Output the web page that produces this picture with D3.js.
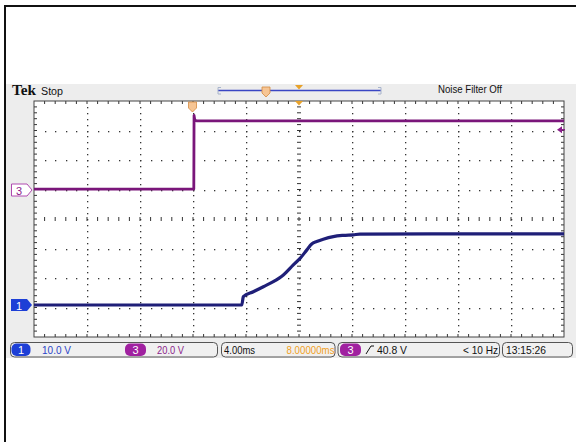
<!DOCTYPE html>
<html><head><meta charset="utf-8">
<script src="https://cdn.jsdelivr.net/npm/d3@7/dist/d3.min.js"></script>
<style>html,body{margin:0;padding:0;background:#fff}svg{display:block}</style>
</head><body>
<svg id="c" width="576" height="442"></svg>
<script>
// ---- data (time in ms from left edge of screen, volts) ----
const ch1Time  = [0, 15.68, 15.80, 16.55, 17.31, 18.06, 18.82, 19.57, 20.08, 20.58, 20.96, 21.34, 21.83, 22.59, 23.34, 24.10, 24.60, 30, 40];
const ch1Volts = [0, 0,     2.8,   4.5,   6.2,   7.9,   10.2,  13.6,  15.8,  18.6,  20.7,  21.5,  22.3,  23.2,  23.6,  23.8,  24.0,  24.1, 24.1];
const ch3Time  = [0, 12.06, 12.08, 12.14, 12.30, 40];
const ch3Volts = [0.6, 0.6, 50.5, 47.2, 46.8, 46.8];
const timeDivisions = 10, voltDivisions = 8, minorPerDiv = 5;
const msPerDiv = 4, ch1VoltsPerDiv = 10, ch3VoltsPerDiv = 20;
const triggerTime = 12, triggerLevel = 40.8;
const statusLabels = {ch1: "10.0 V", ch3: "20.0 V", horiz: "4.00ms", pos: "8.00000ms", trig: "40.8 V", freq: "< 10 Hz", clock: "13:15:26"};

const svg = d3.select("#c");
const L = 34, R = 564, T = 101, B = 337;
const x = d3.scaleLinear().domain([0, timeDivisions * msPerDiv]).range([L, R]);
const divH = (B - T) / voltDivisions;
const y1 = d3.scaleLinear().domain([0, ch1VoltsPerDiv]).range([305, 305 - divH]);
const y3 = d3.scaleLinear().domain([0, ch3VoltsPerDiv]).range([190, 190 - divH]);
const yDiv = d3.scaleLinear().domain([0, voltDivisions]).range([T, B]);
const font = "Liberation Sans, Arial, sans-serif";

// outer frame
svg.append("rect").attr("x", 6).attr("y", 84).attr("width", 570).attr("height", 274).attr("fill", "#ededed");
svg.append("line").attr("x1", 4).attr("x2", 576).attr("y1", 6).attr("y2", 6).attr("stroke", "#111").attr("stroke-width", 2);
svg.append("line").attr("x1", 5).attr("x2", 5).attr("y1", 5).attr("y2", 442).attr("stroke", "#111").attr("stroke-width", 2);

// header
svg.append("text").attr("x", 12).attr("y", 95).attr("font-family", "Liberation Serif, serif").attr("font-weight", "bold")
  .attr("font-size", 15).attr("textLength", 24).attr("lengthAdjust", "spacingAndGlyphs").attr("fill", "#111").text("Tek");
svg.append("text").attr("x", 41).attr("y", 95).attr("font-family", font).attr("font-size", 10)
  .attr("textLength", 22).attr("lengthAdjust", "spacingAndGlyphs").attr("fill", "#111").text("Stop");
svg.append("text").attr("x", 438).attr("y", 92.5).attr("font-family", font).attr("font-size", 10.5)
  .attr("textLength", 64).attr("lengthAdjust", "spacingAndGlyphs").attr("fill", "#111").text("Noise Filter Off");
// record-length bar
svg.append("line").attr("x1", 218).attr("x2", 381).attr("y1", 90.5).attr("y2", 90.5).attr("stroke", "#3a46c4").attr("stroke-width", 1.5);
svg.append("path").attr("d", "M221,87.5 H218 V94 H221 M378,87.5 H381 V94 H378").attr("fill", "none").attr("stroke", "#a8b4cc").attr("stroke-width", 1);
function pent(cx, top, fill, stroke) {
  return svg.append("path").attr("d", `M${cx-4},${top} H${cx+4} V${top+6} L${cx},${top+10} L${cx-4},${top+6} Z`)
    .attr("fill", fill).attr("stroke", stroke).attr("stroke-width", 0.8);
}
pent(266, 87, "#f6c594", "#d48a40");
svg.append("path").attr("d", "M295,85 H303 L299,89.5 Z").attr("fill", "#e8a22a");

// plot background
svg.append("rect").attr("x", L).attr("y", T).attr("width", R - L).attr("height", B - T).attr("fill", "#fff");

// graticule
const g = svg.append("g").attr("fill", "#333");
const minorX = d3.range(1, timeDivisions * minorPerDiv).map(i => x(i * msPerDiv / minorPerDiv));
const minorY = d3.range(1, voltDivisions * minorPerDiv).map(i => yDiv(i / minorPerDiv));
d3.range(1, voltDivisions).filter(k => k !== voltDivisions / 2).forEach(k => {
  const yy = Math.round(yDiv(k));
  minorX.forEach(xx => g.append("rect").attr("x", Math.round(xx)).attr("y", yy).attr("width", 1.3).attr("height", 1.3));
});
d3.range(1, timeDivisions).filter(k => k !== timeDivisions / 2).forEach(k => {
  const xx = Math.round(x(k * msPerDiv));
  minorY.forEach(yy => g.append("rect").attr("x", xx).attr("y", Math.round(yy)).attr("width", 1.3).attr("height", 1.3));
});
let tickPath = "";
const cx = x(timeDivisions * msPerDiv / 2), cy = yDiv(voltDivisions / 2);
minorX.forEach(xx => { tickPath += `M${xx},${cy-2}V${cy+2}M${xx},${T}V${T+3}M${xx},${B}V${B-3}`; });
minorY.forEach(yy => { tickPath += `M${cx-2},${yy}H${cx+2}M${L},${yy}H${L+3}M${R},${yy}H${R-3}`; });
svg.append("path").attr("d", tickPath).attr("stroke", "#333").attr("stroke-width", 1).attr("fill", "none");
svg.append("rect").attr("x", L).attr("y", T).attr("width", R - L).attr("height", B - T)
  .attr("fill", "none").attr("stroke", "#444").attr("stroke-width", 1);

// traces
const line1 = d3.line().x((d, i) => x(ch1Time[i])).y(d => y1(d)).curve(d3.curveMonotoneX);
const line3 = d3.line().x((d, i) => x(ch3Time[i])).y(d => y3(d));
svg.append("path").attr("d", line3(ch3Volts)).attr("fill", "none").attr("stroke", "#7a167a").attr("stroke-width", 2.8).attr("stroke-linejoin", "round");
svg.append("path").attr("d", line1(ch1Volts)).attr("fill", "none").attr("stroke", "#1f1f78").attr("stroke-width", 3.2).attr("stroke-linejoin", "round");

// trigger markers on plot
pent(x(triggerTime) - 0.5, T + 1, "#f6c594", "#d48a40");
svg.append("path").attr("d", `M${cx-4},${T} H${cx+4} L${cx},${T+4.5} Z`).attr("fill", "#e8a22a");
const ty = y3(triggerLevel);
svg.append("path").attr("d", `M${R-7},${ty} L${R-2},${ty-3.5} L${R-2},${ty+3.5} Z M${R-3},${ty-0.8} H${R+1} V${ty+0.8} H${R-3} Z`).attr("fill", "#8a1d8a");

// channel ground markers
const m1 = y1(0), m3 = y3(0);
svg.append("path").attr("d", `M11,${m1-6} H27 L32,${m1} L27,${m1+6} H11 Z`).attr("fill", "#1d3fd6");
svg.append("text").attr("x", 19).attr("y", m1 + 4.5).attr("text-anchor", "middle").attr("font-family", font).attr("font-size", 11).attr("fill", "#fff").text("1");
svg.append("path").attr("d", `M11.5,${m3-6} H27 L32,${m3} L27,${m3+6} H11.5 Z`).attr("fill", "#fff").attr("stroke", "#b04ab0").attr("stroke-width", 1);
svg.append("text").attr("x", 19).attr("y", m3 + 4.5).attr("text-anchor", "middle").attr("font-family", font).attr("font-size", 11).attr("fill", "#8a1d8a").text("3");

// status bar
const sb = svg.append("g");
[[10, 218], [221, 335.5], [337.5, 500], [502, 573]].forEach(([a, b]) => {
  sb.append("rect").attr("x", a + 0.5).attr("y", 342.5).attr("width", b - a - 1).attr("height", 14.5).attr("rx", 4)
    .attr("fill", "#f0f0f0").attr("stroke", "#555").attr("stroke-width", 1);
});
function badge(x0, w, fill, label) {
  sb.append("rect").attr("x", x0).attr("y", 343.5).attr("width", w).attr("height", 12.5).attr("rx", 5).attr("fill", fill);
  sb.append("text").attr("x", x0 + w / 2).attr("y", 354).attr("text-anchor", "middle").attr("font-family", font).attr("font-size", 11).attr("fill", "#fff").text(label);
}
badge(11.5, 19, "#1d3fd6", "1");
badge(125, 21, "#a021a0", "3");
badge(340, 21, "#a021a0", "3");
function stxt(x0, w, fill, s) {
  sb.append("text").attr("x", x0).attr("y", 354).attr("font-family", font).attr("font-size", 11)
    .attr("textLength", w).attr("lengthAdjust", "spacingAndGlyphs").attr("fill", fill).text(s);
}
stxt(42, 29, "#2a45c8", statusLabels.ch1);
stxt(157, 27, "#8a1d8a", statusLabels.ch3);
stxt(224, 31, "#111", statusLabels.horiz);
stxt(286.5, 48, "#f0a024", statusLabels.pos);
sb.append("path").attr("d", "M366,354 L371,346 H374").attr("fill", "none").attr("stroke", "#111").attr("stroke-width", 1);
stxt(377, 30, "#111", statusLabels.trig);
stxt(463, 35, "#111", statusLabels.freq);
stxt(506, 40, "#111", statusLabels.clock);
</script>
</body></html>
